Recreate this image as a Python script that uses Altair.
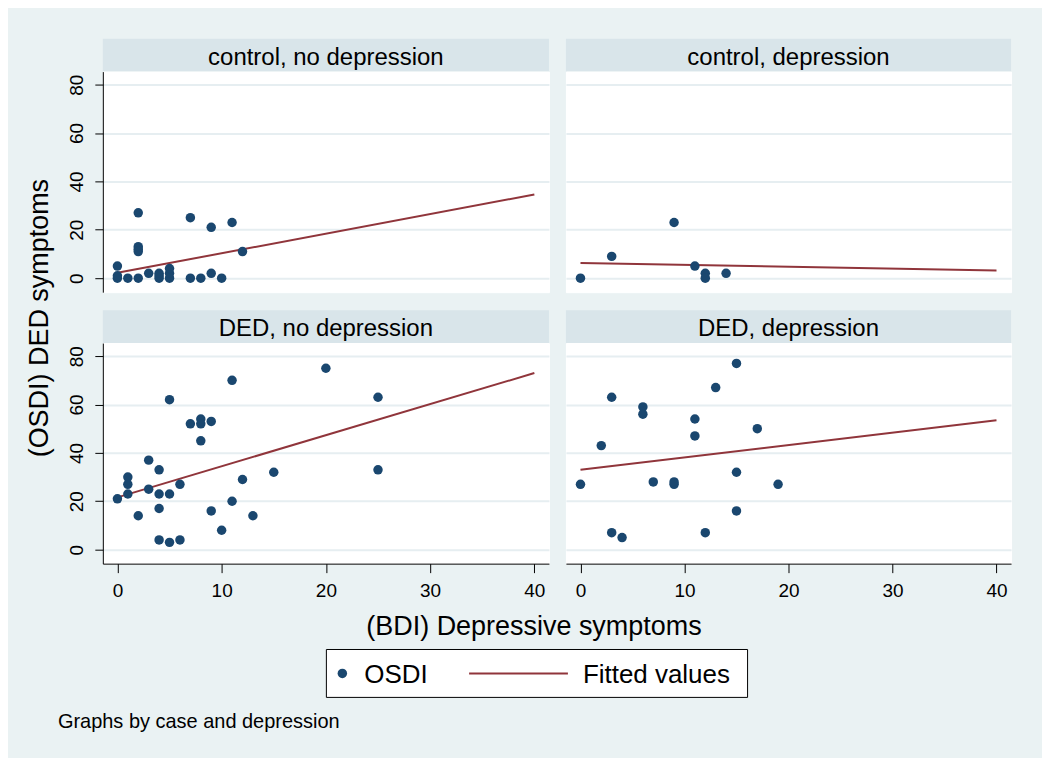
import altair as alt
import pandas as pd

# ---------------- data ----------------
panel_labels = ["control, no depression", "control, depression",
                "DED, no depression", "DED, depression"]

# control, no depression
cnd_bdi = [0, 0, 0, 1, 2, 2, 2, 2, 2, 3, 4, 4, 4, 5, 5, 5, 7, 7, 8, 9, 9, 10, 11, 12]
cnd_osdi = [0, 1, 5, 0, 27, 13, 12, 11, 0, 2, 0, 1, 2, 0, 2, 4, 25, 0, 0, 21, 2, 0, 23, 11]
# control, depression
cd_bdi = [0, 3, 9, 11, 12, 12, 14]
cd_osdi = [0, 9, 23, 5, 2, 0, 2]
# DED, no depression
dnd_bdi = [0, 1, 1, 1, 2, 3, 3, 4, 4, 4, 4, 5, 5, 5, 6, 6, 7, 8, 8, 8, 9, 9, 10, 11, 11, 12, 13, 15, 20, 25, 25]
dnd_osdi = [21, 23, 30, 27, 14, 37, 25, 33, 23, 17, 4, 62, 23, 3, 27, 4, 52, 54, 52, 45, 53, 16, 8, 70, 20, 29, 14, 32, 75, 63, 33]
# DED, depression
dd_bdi = [0, 2, 3, 3, 4, 6, 6, 7, 9, 9, 11, 11, 12, 13, 15, 15, 15, 17, 19]
dd_osdi = [27, 43, 63, 7, 5, 59, 56, 28, 27, 28, 54, 47, 7, 67, 77, 32, 16, 50, 27]

# fitted lines (end points)
fit_bdi = [0, 40]
cnd_fit = [2.2, 34.6]
cd_fit = [6.3, 3.2]
dnd_fit = [21.6, 73.0]
dd_fit = [33.0, 53.5]

x_ticks = [0, 10, 20, 30, 40]
y_ticks = [0, 20, 40, 60, 80]
legend_labels = ["OSDI", "Fitted values"]
x_title = "(BDI) Depressive symptoms"
y_title = "(OSDI) DED symptoms"
note_text = "Graphs by case and depression"

# ---------------- style ----------------
BG = "#eaf2f3"
STRIP = "#d9e5ea"
NAVY = "#1a476f"
MAROON = "#90353b"
GRID = "#e6eef1"
FONT = "Liberation Sans"
XDOM = [-1.4, 41.4]
YDOM = [-5.8, 85.4]
HEAD_H = 33
PLOT_H = 221
ROW_GAP = 18


def header(label, w, gap):
    one = pd.DataFrame({"label": [label]})
    strip = alt.Chart(one).mark_rect(color=STRIP).encode(
        x=alt.value(0), x2=alt.value(w), y=alt.value(gap), y2=alt.value(gap + HEAD_H))
    txt = alt.Chart(one).mark_text(
        font=FONT, fontSize=24, color="black", baseline="alphabetic", align="center"
    ).encode(text="label:N", x=alt.value(w / 2), y=alt.value(gap + 26))
    return alt.layer(strip, txt).properties(width=w, height=gap + HEAD_H)


def plot(xs, ys, fy, left, bottom, w):
    pts = pd.DataFrame({"bdi": xs, "osdi": ys})
    fit = pd.DataFrame({"bdi": fit_bdi, "osdi": fy})
    if bottom:
        xaxis = alt.Axis(values=x_ticks, grid=False, tickSize=9, tickColor="black",
                         domainColor="black", domainWidth=1, labelFont=FONT,
                         labelFontSize=19, labelColor="black", labelPadding=9,
                         labelFlush=False, title=None)
    else:
        xaxis = None
    if left:
        yaxis = alt.Axis(values=y_ticks, grid=True, gridColor=GRID, gridWidth=2,
                         tickSize=8, tickColor="black", domainColor="black",
                         domainWidth=1, labelAngle=270, labelAlign="center",
                         labelBaseline="alphabetic", labelPadding=12, labelFont=FONT,
                         labelFontSize=19, labelColor="black", labelFlush=False,
                         title=None)
    else:
        yaxis = alt.Axis(values=y_ticks, grid=True, gridColor=GRID, gridWidth=2,
                         labels=False, ticks=False, domain=False, title=None)
    xenc = alt.X("bdi:Q", scale=alt.Scale(domain=XDOM, nice=False, zero=False), axis=xaxis)
    yenc = alt.Y("osdi:Q", scale=alt.Scale(domain=YDOM, nice=False, zero=False), axis=yaxis)
    p = alt.Chart(pts).mark_circle(size=90, color=NAVY, opacity=1).encode(x=xenc, y=yenc)
    l = alt.Chart(fit).mark_line(color=MAROON, strokeWidth=2).encode(x=xenc, y=yenc)
    return alt.layer(l, p).properties(width=w, height=PLOT_H,
                                      view=alt.ViewBackground(fill="white", stroke="white"))


# footer cell (below the bottom-left panel): axis titles, legend, note
one = pd.DataFrame({"k": [0]})
xt = alt.Chart(pd.DataFrame({"t": [x_title]})).mark_text(
    font=FONT, fontSize=27, color="black", align="center", baseline="alphabetic"
).encode(text="t:N", x=alt.value(432), y=alt.value(71))
yt = alt.Chart(pd.DataFrame({"t": [y_title]})).mark_text(
    font=FONT, fontSize=27, color="black", angle=270, align="center", baseline="alphabetic"
).encode(text="t:N", x=alt.value(-55), y=alt.value(-246))
box = alt.Chart(one).mark_rect(fill="white", stroke="black", strokeWidth=1).encode(
    x=alt.value(224), x2=alt.value(646), y=alt.value(86), y2=alt.value(134))
dot = alt.Chart(one).mark_circle(size=90, color=NAVY, opacity=1).encode(
    x=alt.value(240), y=alt.value(110))
seg = alt.Chart(one).mark_rule(color=MAROON, strokeWidth=2).encode(
    x=alt.value(367), x2=alt.value(466), y=alt.value(110))
lab1 = alt.Chart(pd.DataFrame({"t": [legend_labels[0]]})).mark_text(
    font=FONT, fontSize=26, color="black", align="left", baseline="alphabetic"
).encode(text="t:N", x=alt.value(262), y=alt.value(120))
lab2 = alt.Chart(pd.DataFrame({"t": [legend_labels[1]]})).mark_text(
    font=FONT, fontSize=26, color="black", align="left", baseline="alphabetic"
).encode(text="t:N", x=alt.value(481), y=alt.value(120))
note = alt.Chart(pd.DataFrame({"t": [note_text]})).mark_text(
    font=FONT, fontSize=20, color="black", align="left", baseline="alphabetic"
).encode(text="t:N", x=alt.value(-45), y=alt.value(165))
footer = alt.layer(xt, yt, box, dot, seg, lab1, lab2, note).properties(width=447, height=193)
blank = alt.Chart(one).mark_text(text="").encode(x=alt.value(0), y=alt.value(0)).properties(
    width=446, height=193)

cells = [
    header(panel_labels[0], 447, 0), header(panel_labels[1], 446, 0),
    plot(cnd_bdi, cnd_osdi, cnd_fit, True, False, 447), plot(cd_bdi, cd_osdi, cd_fit, False, False, 446),
    header(panel_labels[2], 447, ROW_GAP), header(panel_labels[3], 446, ROW_GAP),
    plot(dnd_bdi, dnd_osdi, dnd_fit, True, True, 447), plot(dd_bdi, dd_osdi, dd_fit, False, True, 446),
    footer, blank,
]

chart = alt.concat(*cells, columns=2, spacing={"row": 0, "column": 17}, bounds="flush").properties(
    background=BG,
    padding={"left": 17, "top": 29, "right": 30, "bottom": 0},
).configure_view(stroke="transparent")

chart.save("out.html", embed_options={"renderer": "svg", "actions": False})
